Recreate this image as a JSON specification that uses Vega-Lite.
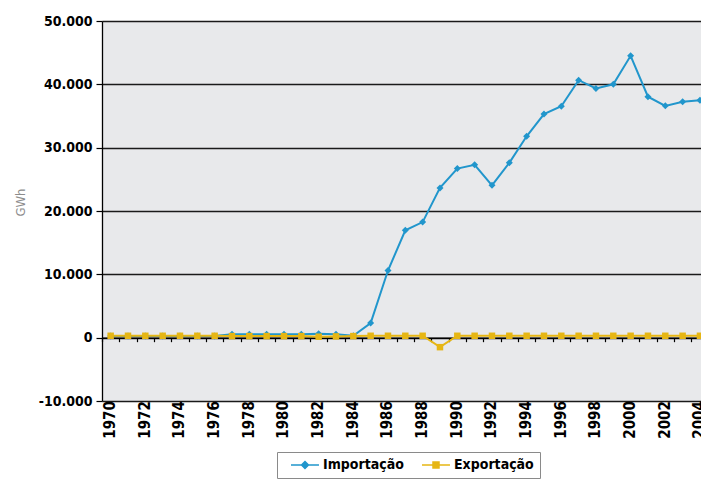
{
  "$schema": "https://vega.github.io/schema/vega-lite/v6.json",
  "width": 599,
  "height": 380,
  "autosize": {"type": "none"},
  "padding": {"left": 102, "top": 21, "right": 0, "bottom": 80},
  "background": "white",
  "config": {
    "view": {"fill": "#e8e9eb", "stroke": null},
    "font": "DejaVu Sans Condensed"
  },
  "data": {
    "values": [
      {"ano": 1970, "serie": "Importação", "valor": 250},
      {"ano": 1971, "serie": "Importação", "valor": 250},
      {"ano": 1972, "serie": "Importação", "valor": 250},
      {"ano": 1973, "serie": "Importação", "valor": 250},
      {"ano": 1974, "serie": "Importação", "valor": 250},
      {"ano": 1975, "serie": "Importação", "valor": 250},
      {"ano": 1976, "serie": "Importação", "valor": 250},
      {"ano": 1977, "serie": "Importação", "valor": 550},
      {"ano": 1978, "serie": "Importação", "valor": 550},
      {"ano": 1979, "serie": "Importação", "valor": 550},
      {"ano": 1980, "serie": "Importação", "valor": 550},
      {"ano": 1981, "serie": "Importação", "valor": 550},
      {"ano": 1982, "serie": "Importação", "valor": 600},
      {"ano": 1983, "serie": "Importação", "valor": 550},
      {"ano": 1984, "serie": "Importação", "valor": 300},
      {"ano": 1985, "serie": "Importação", "valor": 2300},
      {"ano": 1986, "serie": "Importação", "valor": 10600},
      {"ano": 1987, "serie": "Importação", "valor": 16950},
      {"ano": 1988, "serie": "Importação", "valor": 18250},
      {"ano": 1989, "serie": "Importação", "valor": 23650},
      {"ano": 1990, "serie": "Importação", "valor": 26700},
      {"ano": 1991, "serie": "Importação", "valor": 27300},
      {"ano": 1992, "serie": "Importação", "valor": 24050},
      {"ano": 1993, "serie": "Importação", "valor": 27600},
      {"ano": 1994, "serie": "Importação", "valor": 31800},
      {"ano": 1995, "serie": "Importação", "valor": 35300},
      {"ano": 1996, "serie": "Importação", "valor": 36550},
      {"ano": 1997, "serie": "Importação", "valor": 40650},
      {"ano": 1998, "serie": "Importação", "valor": 39350},
      {"ano": 1999, "serie": "Importação", "valor": 40000},
      {"ano": 2000, "serie": "Importação", "valor": 44500},
      {"ano": 2001, "serie": "Importação", "valor": 38050},
      {"ano": 2002, "serie": "Importação", "valor": 36600},
      {"ano": 2003, "serie": "Importação", "valor": 37250},
      {"ano": 2004, "serie": "Importação", "valor": 37500},
      {"ano": 1970, "serie": "Exportação", "valor": 300},
      {"ano": 1971, "serie": "Exportação", "valor": 300},
      {"ano": 1972, "serie": "Exportação", "valor": 300},
      {"ano": 1973, "serie": "Exportação", "valor": 300},
      {"ano": 1974, "serie": "Exportação", "valor": 300},
      {"ano": 1975, "serie": "Exportação", "valor": 300},
      {"ano": 1976, "serie": "Exportação", "valor": 300},
      {"ano": 1977, "serie": "Exportação", "valor": 250},
      {"ano": 1978, "serie": "Exportação", "valor": 250},
      {"ano": 1979, "serie": "Exportação", "valor": 250},
      {"ano": 1980, "serie": "Exportação", "valor": 250},
      {"ano": 1981, "serie": "Exportação", "valor": 250},
      {"ano": 1982, "serie": "Exportação", "valor": 150},
      {"ano": 1983, "serie": "Exportação", "valor": 200},
      {"ano": 1984, "serie": "Exportação", "valor": 250},
      {"ano": 1985, "serie": "Exportação", "valor": 300},
      {"ano": 1986, "serie": "Exportação", "valor": 300},
      {"ano": 1987, "serie": "Exportação", "valor": 300},
      {"ano": 1988, "serie": "Exportação", "valor": 300},
      {"ano": 1989, "serie": "Exportação", "valor": -1500},
      {"ano": 1990, "serie": "Exportação", "valor": 300},
      {"ano": 1991, "serie": "Exportação", "valor": 300},
      {"ano": 1992, "serie": "Exportação", "valor": 300},
      {"ano": 1993, "serie": "Exportação", "valor": 300},
      {"ano": 1994, "serie": "Exportação", "valor": 300},
      {"ano": 1995, "serie": "Exportação", "valor": 300},
      {"ano": 1996, "serie": "Exportação", "valor": 300},
      {"ano": 1997, "serie": "Exportação", "valor": 300},
      {"ano": 1998, "serie": "Exportação", "valor": 300},
      {"ano": 1999, "serie": "Exportação", "valor": 300},
      {"ano": 2000, "serie": "Exportação", "valor": 300},
      {"ano": 2001, "serie": "Exportação", "valor": 300},
      {"ano": 2002, "serie": "Exportação", "valor": 300},
      {"ano": 2003, "serie": "Exportação", "valor": 300},
      {"ano": 2004, "serie": "Exportação", "valor": 300}
    ]
  },
  "encoding": {
    "x": {
      "field": "ano",
      "type": "quantitative",
      "scale": {"domain": [1969.5, 2004.06], "nice": false, "zero": false},
      "axis": {
        "orient": "bottom",
        "offset": -63.33,
        "values": [1970, 1971, 1972, 1973, 1974, 1975, 1976, 1977, 1978, 1979, 1980, 1981, 1982, 1983, 1984, 1985, 1986, 1987, 1988, 1989, 1990, 1991, 1992, 1993, 1994, 1995, 1996, 1997, 1998, 1999, 2000, 2001, 2002, 2003, 2004],
        "tickOffset": -8.665,
        "labelOffset": 7.5,
        "grid": false,
        "domainColor": "#000000",
        "domainWidth": 1.5,
        "tickColor": "#000000",
        "tickSize": 4,
        "tickWidth": 1.2,
        "labelExpr": "datum.value % 2 == 0 ? toString(datum.value) : ''",
        "labelAngle": 270,
        "labelPadding": 59,
        "labelFont": "DejaVu Sans Condensed",
        "labelFontSize": 15,
        "labelFontWeight": "bold",
        "labelColor": "#000000",
        "labelOverlap": false,
        "labelFlush": false,
        "labelBound": false,
        "title": null
      }
    },
    "y": {
      "field": "valor",
      "type": "quantitative",
      "scale": {"domain": [-10000, 50000], "nice": false, "zero": false},
      "axis": {
        "values": [-10000, 0, 10000, 20000, 30000, 40000, 50000],
        "labelExpr": "replace(replace(format(datum.value, ','), ',', '.'), '\u2212', '-')",
        "grid": true,
        "gridColor": "#1a1a1a",
        "gridWidth": 1.3,
        "domainColor": "#000000",
        "domainWidth": 1.3,
        "tickColor": "#000000",
        "tickSize": 6,
        "tickWidth": 1.2,
        "labelFont": "DejaVu Sans Condensed",
        "labelFontSize": 14,
        "labelFontWeight": "bold",
        "labelColor": "#000000",
        "labelPadding": 4,
        "title": "GWh",
        "titleFont": "DejaVu Sans Condensed",
        "titleFontSize": 13,
        "titleFontWeight": "normal",
        "titleColor": "#8c8c8c",
        "titleX": -82,
        "titleY": 181,
        "titleAngle": 270,
        "titleAlign": "center",
        "titleBaseline": "middle"
      }
    },
    "color": {
      "field": "serie",
      "type": "nominal",
      "scale": {"domain": ["Importação", "Exportação"], "range": ["#2196cc", "#e6b614"]},
      "legend": {
        "orient": "none",
        "legendX": 175,
        "legendY": 431,
        "direction": "horizontal",
        "title": null,
        "strokeColor": "#8a8a8a",
        "fillColor": "#ffffff",
        "padding": 6,
        "symbolSize": 144,
        "symbolStrokeWidth": 1.5,
        "symbolOpacity": 1,
        "symbolType": {"expr": "datum.value === 'Importação' ? 'M0.167,0H4.83M2.5,-0.58L3.08,0L2.5,0.58L1.92,0Z' : 'M0.167,0H4.83M2,-0.5H3V0.5H2Z'"},
        "symbolStrokeColor": {"expr": "scale('color', datum.value)"},
        "symbolFillColor": {"expr": "scale('color', datum.value)"},
        "labelFont": "DejaVu Sans Condensed",
        "labelFontSize": 14,
        "labelFontWeight": "bold",
        "labelColor": "#000000",
        "labelOffset": 26,
        "columnPadding": 10
      }
    }
  },
  "layer": [
    {"mark": {"type": "line", "strokeWidth": 2}},
    {
      "transform": [{"filter": "datum.serie === 'Importação'"}],
      "mark": {"type": "point", "filled": true, "opacity": 1, "shape": "diamond", "size": 49}
    },
    {
      "transform": [{"filter": "datum.serie === 'Exportação'"}],
      "mark": {"type": "point", "filled": true, "opacity": 1, "shape": "square", "size": 42}
    }
  ]
}
